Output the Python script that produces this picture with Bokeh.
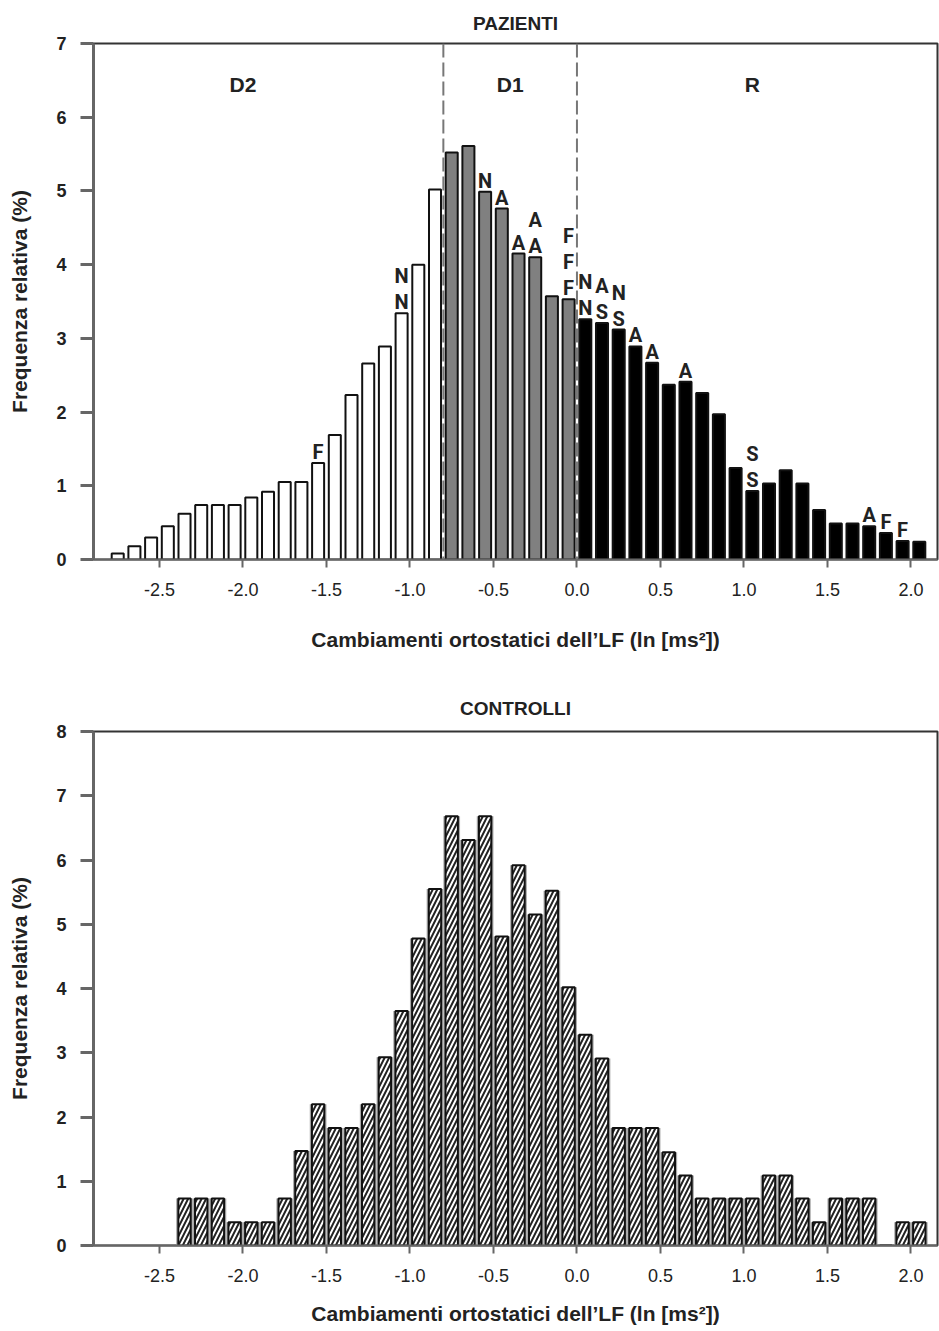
import numpy as np
from bokeh.plotting import figure
from bokeh.layouts import column
from bokeh.models import ColumnDataSource, Span, PrintfTickFormatter
from bokeh.core.properties import value
from bokeh.embed import file_html
from bokeh.resources import INLINE

# ---------------- data ----------------
bin_width = 0.1
patient_first_center = -2.75
patient_freq = [0.08, 0.18, 0.30, 0.45, 0.62, 0.74, 0.74, 0.74, 0.84, 0.92,
                1.05, 1.05, 1.31, 1.69, 2.23, 2.66, 2.89, 3.34, 4.00, 5.02,
                5.52, 5.61, 4.99, 4.76, 4.15, 4.10, 3.57, 3.53,
                3.26, 3.21, 3.12, 2.89, 2.67, 2.37, 2.41, 2.26, 1.97, 1.24,
                0.93, 1.03, 1.21, 1.03, 0.67, 0.49, 0.49, 0.45, 0.36, 0.25, 0.24]
# letters stacked above patient bars (bar index -> letters bottom to top)
patient_letters = {12: "F", 17: "NN", 22: "N", 23: "A", 24: "A", 25: "AA",
                   27: "FFF", 28: "NN", 29: "SA", 30: "SN", 31: "A", 32: "A",
                   34: "A", 38: "SS", 45: "A", 46: "F", 47: "F"}
region_bounds = [-0.8, 0.0]
region_names = ["D2", "D1", "R"]
region_label_x = [-2.0, -0.4, 1.05]
region_label_y = 6.45

control_first_center = -2.35
control_freq = [0.73, 0.73, 0.73, 0.36, 0.36, 0.36, 0.73, 1.47, 2.20, 1.83,
                1.83, 2.20, 2.93, 3.65, 4.78, 5.55, 6.68, 6.31, 6.68, 4.81,
                5.92, 5.15, 5.52, 4.02, 3.28, 2.91, 1.83, 1.83, 1.83, 1.45,
                1.09, 0.73, 0.73, 0.73, 0.73, 1.09, 1.09, 0.73, 0.36, 0.73,
                0.73, 0.73, 0.00, 0.36, 0.36]

x_ticks = [-2.5, -2.0, -1.5, -1.0, -0.5, 0.0, 0.5, 1.0, 1.5, 2.0]
x_label = "Cambiamenti ortostatici dell\u2019LF (ln [ms\u00b2])"
y_label = "Frequenza relativa (%)"
titles = ["PAZIENTI", "CONTROLLI"]

FONT = "Liberation Sans"


def make_fig(title, height, ymax, top, bottom, title_standoff, xlab_standoff):
    p = figure(width=939, height=height, x_range=(-2.895, 2.159), y_range=(0, ymax),
               output_backend="svg", toolbar_location=None,
               min_border_left=93, min_border_right=2,
               min_border_top=top, min_border_bottom=bottom)
    p.title.text = title
    p.title.align = "center"
    p.title.text_font = FONT
    p.title.text_font_size = "19px"
    p.title.text_font_style = "bold"
    p.title.text_color = "#222222"
    p.title.standoff = title_standoff
    p.xgrid.visible = False
    p.ygrid.visible = False
    p.outline_line_color = "#333333"
    p.outline_line_width = 2
    p.background_fill_color = "white"
    p.border_fill_color = "white"

    ax = p.xaxis[0]
    ax.ticker = x_ticks
    ax.formatter = PrintfTickFormatter(format="%.1f")
    ax.major_tick_out = 8
    ax.major_tick_in = 0
    ax.minor_tick_line_color = None
    ax.axis_line_color = "#666666"
    ax.axis_line_width = 2
    ax.major_tick_line_color = "#666666"
    ax.major_tick_line_width = 2
    ax.major_label_standoff = 15
    ax.major_label_text_font = FONT
    ax.major_label_text_font_size = "18px"
    ax.major_label_text_color = "#222222"
    ax.axis_label = x_label
    ax.axis_label_text_font = FONT
    ax.axis_label_text_font_size = "21px"
    ax.axis_label_text_font_style = "bold"
    ax.axis_label_text_color = "#222222"
    ax.axis_label_standoff = xlab_standoff

    ay = p.yaxis[0]
    ay.ticker = list(range(0, ymax + 1))
    ay.major_tick_out = 13
    ay.major_tick_in = 0
    ay.minor_tick_line_color = None
    ay.axis_line_color = "#666666"
    ay.axis_line_width = 3
    ay.major_tick_line_color = "#666666"
    ay.major_tick_line_width = 3
    ay.major_label_standoff = 14
    ay.major_label_text_font = FONT
    ay.major_label_text_font_size = "18px"
    ay.major_label_text_font_style = "bold"
    ay.major_label_text_color = "#222222"
    ay.axis_label = y_label
    ay.axis_label_text_font = FONT
    ay.axis_label_text_font_size = "21px"
    ay.axis_label_text_font_style = "bold"
    ay.axis_label_text_color = "#222222"
    ay.axis_label_standoff = 22
    return p


# ---------------- top chart: PAZIENTI ----------------
p1 = make_fig(titles[0], 668, 7, 43, 109, 19, 29)

pc = [round(patient_first_center + bin_width * i, 2) for i in range(len(patient_freq))]
fills = []
for c in pc:
    if c < region_bounds[0]:
        fills.append("white")
    elif c < region_bounds[1]:
        fills.append("#808080")
    else:
        fills.append("black")
src1 = ColumnDataSource(dict(x=pc, top=patient_freq, fill=fills))
p1.vbar(x="x", top="top", bottom=0, width=0.072, source=src1,
        fill_color="fill", line_color="#111111", line_width=2)

for b in region_bounds:
    p1.add_layout(Span(location=b, dimension="height", line_color="#777777",
                       line_width=2, line_dash="14 5"))

p1.text(x=region_label_x, y=[region_label_y] * 3, text=region_names,
        text_font=value(FONT), text_font_size="21px", text_font_style="bold",
        text_align="center", text_baseline="middle", text_color="#222222")

lx, ly, lt, loff = [], [], [], []
for idx, letters in patient_letters.items():
    for k, ch in enumerate(letters):
        lx.append(pc[idx])
        ly.append(patient_freq[idx])
        lt.append(ch)
        loff.append(-(11 + 26 * k))
src_l = ColumnDataSource(dict(x=lx, y=ly, t=lt, off=loff))
p1.text(x="x", y="y", text="t", y_offset="off", source=src_l,
        text_font=value("Roboto"), text_font_size="20px", text_font_style="bold",
        text_align="center", text_baseline="middle", text_color="#222222")

# ---------------- bottom chart: CONTROLLI ----------------
p2 = make_fig(titles[1], 663, 8, 63, 86, 26, 17)
cc = [round(control_first_center + bin_width * i, 2) for i in range(len(control_freq))]
src2 = ColumnDataSource(dict(x=cc, top=control_freq))
p2.vbar(x="x", top="top", bottom=0, width=0.1, source=src2,
        fill_color="#a8a8a8", line_color=None)
p2.vbar(x="x", top="top", bottom=0, width=0.074, source=src2,
        fill_color="white", line_color="#111111", line_width=2,
        hatch_pattern="/", hatch_color="#222222", hatch_weight=2, hatch_scale=9)

layout = column(p1, p2, spacing=0)
open("out.html", "w").write(file_html(layout, INLINE))
